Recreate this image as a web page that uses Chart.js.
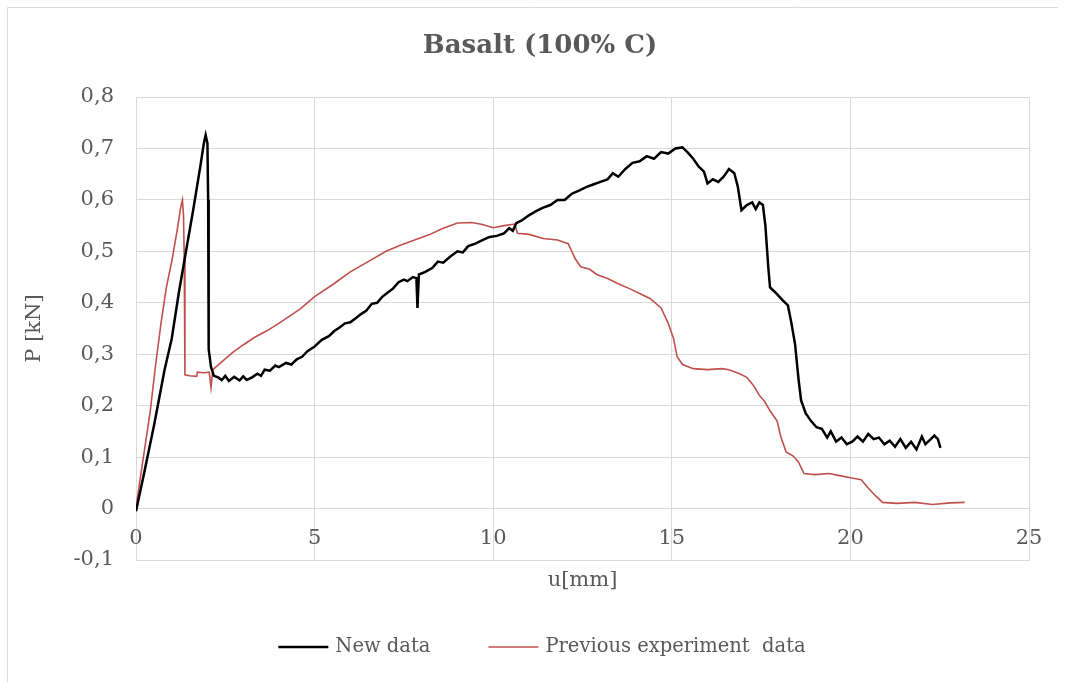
<!DOCTYPE html>
<html>
<head>
<meta charset="utf-8">
<script src="https://cdn.jsdelivr.net/npm/chart.js@4"></script>
<style>
    body { margin: 0; background: #fff; }
    #wrap { position: relative; width: 1065px; height: 682px; }
</style>
</head>
<body>
<div id="wrap"><canvas id="lineChart" width="1065" height="682"></canvas></div>
<script>
// DATA
let x_ticks = [0, 5, 10, 15, 20, 25];
let y_ticks = [-0.1, 0, 0.1, 0.2, 0.3, 0.4, 0.5, 0.6, 0.7, 0.8];

// New data (black)
let new_u = [0, 0.2, 0.5, 0.8, 1.0, 1.2, 1.4, 1.6, 1.8, 1.9, 1.95, 2.0, 2.02, 2.03, 2.04, 2.1, 2.18, 2.3, 2.4, 2.5,
    2.6, 2.75, 2.9, 3.0, 3.1, 3.25, 3.4, 3.5, 3.6, 3.75, 3.9, 4.0, 4.2, 4.35, 4.5, 4.65, 4.8, 5.0, 5.2, 5.4,
    5.55, 5.7, 5.85, 6.0, 6.15, 6.3, 6.45, 6.6, 6.75, 6.9, 7.05, 7.2, 7.35, 7.5, 7.6, 7.75, 7.85, 7.88, 7.92, 8.1,
    8.3, 8.45, 8.6, 8.8, 9.0, 9.15, 9.3, 9.5, 9.7, 9.9, 10.1, 10.3, 10.45, 10.55, 10.65, 10.8, 11.0, 11.2, 11.4, 11.6,
    11.8, 12.0, 12.2, 12.4, 12.6, 12.8, 13.0, 13.2, 13.35, 13.5, 13.7, 13.9, 14.1, 14.3, 14.5, 14.7, 14.9, 15.1, 15.3, 15.45,
    15.6, 15.75, 15.9, 16.0, 16.15, 16.3, 16.45, 16.6, 16.75, 16.85, 16.95, 17.1, 17.25, 17.35, 17.45, 17.55, 17.62, 17.7, 17.75, 17.9,
    18.1, 18.25, 18.35, 18.45, 18.55, 18.62, 18.75, 18.9, 19.05, 19.2, 19.35, 19.45, 19.6, 19.75, 19.9, 20.05, 20.2, 20.35, 20.5, 20.65,
    20.8, 20.95, 21.1, 21.25, 21.4, 21.55, 21.7, 21.85, 22.0, 22.1, 22.25, 22.35, 22.45, 22.52];
let new_p = [-0.005, 0.06, 0.16, 0.27, 0.33, 0.42, 0.5, 0.58, 0.665, 0.71, 0.726, 0.71, 0.6, 0.49, 0.31, 0.275, 0.258, 0.255, 0.25, 0.258,
    0.248, 0.256, 0.249, 0.257, 0.25, 0.255, 0.262, 0.258, 0.27, 0.268, 0.278, 0.275, 0.283, 0.28, 0.29, 0.295, 0.306, 0.315, 0.328, 0.335,
    0.345, 0.352, 0.36, 0.362, 0.37, 0.378, 0.385, 0.398, 0.4, 0.412, 0.42, 0.428, 0.44, 0.445, 0.442, 0.45, 0.448, 0.39, 0.455, 0.46,
    0.468, 0.48, 0.478, 0.49, 0.5, 0.498, 0.51, 0.515, 0.522, 0.528, 0.53, 0.535, 0.545, 0.54, 0.555, 0.56, 0.57, 0.578, 0.585, 0.59,
    0.6, 0.6, 0.612, 0.618, 0.625, 0.63, 0.635, 0.64, 0.652, 0.645, 0.66, 0.672, 0.675, 0.685, 0.68, 0.693, 0.69, 0.7, 0.702, 0.692,
    0.68, 0.665, 0.655, 0.632, 0.64, 0.635, 0.645, 0.66, 0.652, 0.625, 0.58, 0.59, 0.595, 0.582, 0.595, 0.59, 0.55, 0.47, 0.43, 0.42,
    0.405, 0.395, 0.36, 0.32, 0.25, 0.21, 0.185, 0.17, 0.158, 0.155, 0.138, 0.15, 0.13, 0.138, 0.125, 0.13, 0.14, 0.13, 0.145, 0.135,
    0.138, 0.125, 0.132, 0.12, 0.135, 0.118, 0.13, 0.115, 0.14, 0.125, 0.135, 0.142, 0.135, 0.118];

// Previous experiment data (red)
let prev_u = [0, 0.1, 0.25, 0.4, 0.55, 0.7, 0.85, 1.0, 1.15, 1.25, 1.3, 1.33, 1.35, 1.37, 1.5, 1.7, 1.72, 1.9, 2.05, 2.1,
    2.15, 2.4, 2.7, 3.0, 3.3, 3.65, 4.0, 4.3, 4.6, 5.0, 5.5, 6.0, 6.5, 7.0, 7.4, 7.8, 8.2, 8.6, 9.0, 9.4,
    9.7, 10.0, 10.3, 10.6, 10.68, 11.0, 11.4, 11.8, 12.1, 12.3, 12.45, 12.7, 12.9, 13.2, 13.5, 13.8, 14.1, 14.4, 14.7, 14.9,
    15.05, 15.15, 15.3, 15.6, 16.0, 16.4, 16.6, 16.9, 17.1, 17.3, 17.45, 17.6, 17.75, 17.95, 18.05, 18.2, 18.4, 18.55, 18.7, 19.0,
    19.4, 19.7, 20.0, 20.3, 20.5, 20.7, 20.9, 21.3, 21.8, 22.3, 22.8, 23.2];
let prev_p = [0, 0.05, 0.12, 0.19, 0.28, 0.36, 0.43, 0.48, 0.54, 0.585, 0.6, 0.57, 0.49, 0.26, 0.258, 0.257, 0.265, 0.264, 0.265, 0.235,
    0.27, 0.285, 0.303, 0.318, 0.332, 0.345, 0.36, 0.374, 0.388, 0.412, 0.435, 0.46, 0.48, 0.5, 0.512, 0.522, 0.532, 0.545, 0.555, 0.556,
    0.552, 0.546, 0.55, 0.553, 0.535, 0.533, 0.525, 0.522, 0.515, 0.485, 0.47, 0.465, 0.455, 0.447, 0.437, 0.428, 0.418, 0.408, 0.39, 0.36,
    0.33, 0.295, 0.28, 0.272, 0.27, 0.272, 0.27, 0.262, 0.255, 0.238, 0.22, 0.208, 0.19, 0.17, 0.14, 0.11, 0.102, 0.09, 0.068, 0.066,
    0.068, 0.064, 0.06, 0.056, 0.04, 0.025, 0.012, 0.01, 0.012, 0.008, 0.011, 0.012];

function toPoints(xs, ys) {
    let pts = [];
    xs.forEach((x, i) => pts.push({x: x, y: ys[i]}));
    return pts;
}

const textColor = '#595959';
const gridColor = '#d9d9d9';
const serif = "'DejaVu Serif', 'Liberation Serif', serif";

// frame, x labels under the 0 line and the legend (excel style)
const excelBits = {
    id: 'excelBits',
    beforeDraw(chart) {
        const ctx = chart.ctx;
        ctx.save();
        ctx.fillStyle = '#fff';
        ctx.fillRect(0, 0, chart.width, chart.height);
        ctx.strokeStyle = gridColor;
        ctx.lineWidth = 1;
        ctx.beginPath();
        ctx.moveTo(7.5, 682);
        ctx.lineTo(7.5, 7.5);
        ctx.lineTo(1058, 7.5);
        ctx.stroke();
        ctx.restore();
    },
    afterDatasetsDraw(chart) {
        const ctx = chart.ctx;
        const xs = chart.scales.x, ys = chart.scales.y;
        const y0 = ys.getPixelForValue(0);
        ctx.save();
        ctx.fillStyle = textColor;
        ctx.font = "21px " + serif;
        ctx.textAlign = 'center';
        ctx.textBaseline = 'middle';
        x_ticks.forEach(t => ctx.fillText(String(t), xs.getPixelForValue(t), y0 + 30));

        // legend
        ctx.font = "19.5px " + serif;
        ctx.textAlign = 'left';
        const lineLen = 50, gapText = 7, gapItem = 58, legY = 647;
        const sets = chart.data.datasets;
        let total = 0;
        sets.forEach((ds, i) => {
            total += lineLen + gapText + ctx.measureText(ds.label).width;
            if (i < sets.length - 1) total += gapItem;
        });
        let lx = 542 - total / 2;
        sets.forEach(ds => {
            ctx.strokeStyle = ds.borderColor;
            ctx.lineWidth = ds.borderWidth;
            ctx.beginPath();
            ctx.moveTo(lx, legY);
            ctx.lineTo(lx + lineLen, legY);
            ctx.stroke();
            lx += lineLen + gapText;
            ctx.fillText(ds.label, lx, legY);
            lx += ctx.measureText(ds.label).width + gapItem;
        });
        ctx.restore();
    }
};

var ctxLine = document.getElementById('lineChart').getContext('2d');
var lineChart = new Chart(ctxLine, {
    type: 'scatter',
    data: {
        datasets: [
            {
                label: 'New data',
                data: toPoints(new_u, new_p),
                showLine: true,
                borderColor: '#000000',
                backgroundColor: '#000000',
                borderWidth: 2.5,
                pointRadius: 0,
                tension: 0
            },
            {
                label: 'Previous experiment  data',
                data: toPoints(prev_u, prev_p),
                showLine: true,
                borderColor: '#c0504d',
                backgroundColor: '#c0504d',
                borderWidth: 1.6,
                pointRadius: 0,
                tension: 0
            }
        ]
    },
    options: {
        responsive: false,
        animation: false,
        layout: { padding: { left: 51, right: 36, top: 0, bottom: 0 } },
        plugins: {
            title: {
                display: true,
                text: 'Basalt (100% C)',
                color: textColor,
                font: { family: serif, size: 26, weight: 'bold' },
                padding: { top: 31, bottom: 34.8 }
            },
            legend: { display: false },
            tooltip: { enabled: false }
        },
        scales: {
            x: {
                type: 'linear',
                min: 0,
                max: 25,
                afterBuildTicks: function(scale) {
                    scale.ticks = x_ticks.map(v => ({value: v}));
                },
                afterFit: function(scale) { scale.height = 122; },
                grid: { color: gridColor, drawTicks: false },
                border: { color: gridColor },
                ticks: { display: false },
                title: {
                    display: true,
                    text: 'u[mm]',
                    color: textColor,
                    font: { family: serif, size: 21 },
                    padding: { top: 0, bottom: 89 }
                }
            },
            y: {
                min: -0.1,
                max: 0.8,
                afterBuildTicks: function(scale) {
                    scale.ticks = y_ticks.map(v => ({value: v}));
                },
                afterFit: function(scale) { scale.width = 85; },
                grid: { color: gridColor, drawTicks: false },
                border: { color: gridColor },
                ticks: {
                    color: textColor,
                    font: { family: serif, size: 21 },
                    padding: 22,
                    callback: function(v) {
                        return String(Math.round(v * 10) / 10).replace('.', ',');
                    }
                },
                title: {
                    display: true,
                    text: 'P [kN]',
                    color: textColor,
                    font: { family: serif, size: 21 },
                    padding: { top: -28.6, bottom: 0 }
                }
            }
        }
    },
    plugins: [excelBits]
});
</script>
</body>
</html>
